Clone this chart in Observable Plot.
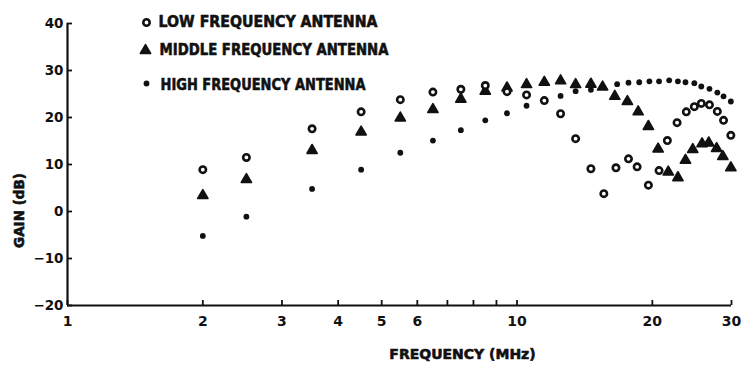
<!DOCTYPE html>
<html>
<head>
<meta charset="utf-8">
<script src="https://cdn.jsdelivr.net/npm/d3@7"></script>
<script src="https://cdn.jsdelivr.net/npm/@observablehq/plot@0.6"></script>
<style>
  body { margin: 0; background: #fff; }
  #chart svg { font-family: "DejaVu Sans", sans-serif; font-weight: bold; }
</style>
</head>
<body>
<div id="chart"></div>
<script>
// Antenna gain measurements (dB) against frequency (MHz)
const lowFreq  = [2, 2.5, 3.5, 4.5, 5.5, 6.5, 7.5, 8.5, 9.5, 10.5, 11.5, 12.5, 13.5, 14.6, 15.6, 16.6, 17.7, 18.5, 19.6, 20.7, 21.6, 22.7, 23.8, 24.8, 25.7, 26.8, 27.9, 28.8, 29.9];
const lowGain  = [8.9, 11.5, 17.6, 21.2, 23.8, 25.4, 26.0, 26.8, 25.5, 24.8, 23.6, 20.8, 15.5, 9.1, 3.8, 9.3, 11.2, 9.5, 5.6, 8.7, 15.1, 18.9, 21.2, 22.3, 23.0, 22.7, 21.3, 19.4, 16.2];

const midFreq  = [2, 2.5, 3.5, 4.5, 5.5, 6.5, 7.5, 8.5, 9.5, 10.5, 11.5, 12.5, 13.5, 14.6, 15.5, 16.5, 17.6, 18.6, 19.6, 20.6, 21.7, 22.8, 23.7, 24.6, 25.8, 26.7, 27.8, 28.7, 29.9];
const midGain  = [3.4, 6.8, 13.0, 16.9, 19.9, 21.7, 23.9, 25.6, 26.3, 27.0, 27.5, 27.8, 27.0, 27.1, 26.5, 24.5, 23.4, 21.2, 18.1, 13.3, 8.4, 7.2, 10.9, 13.2, 14.4, 14.6, 13.4, 11.7, 9.3];

const highFreq = [2, 2.5, 3.5, 4.5, 5.5, 6.5, 7.5, 8.5, 9.5, 10.5, 11.5, 12.5, 13.5, 14.6, 15.5, 16.7, 17.7, 18.7, 19.7, 20.7, 21.8, 22.8, 23.7, 24.8, 25.7, 26.8, 27.9, 28.8, 29.9];
const highGain = [-5.2, -1.1, 4.8, 8.9, 12.5, 15.1, 17.3, 19.4, 20.9, 22.5, 23.6, 24.6, 25.6, 25.9, 26.5, 27.1, 27.4, 27.5, 27.7, 27.7, 27.9, 27.7, 27.5, 27.3, 26.6, 26.1, 25.3, 24.5, 23.4];

const xTicks = [1, 2, 3, 4, 5, 6, 7, 8, 9, 10, 20, 30];
const yTicks = [-20, -10, 0, 10, 20, 30, 40];
const legendLabels = ["LOW FREQUENCY ANTENNA", "MIDDLE FREQUENCY ANTENNA", "HIGH FREQUENCY ANTENNA"];
const xTitle = "FREQUENCY (MHz)";
const yTitle = "GAIN (dB)";

const zip = (xs, ys) => xs.map((x, i) => ({f: x, g: ys[i]}));
const low = zip(lowFreq, lowGain);
const mid = zip(midFreq, midGain);
const high = zip(highFreq, highGain);

const W = 742, H = 367;
const M = {left: 67, right: 11, top: 23, bottom: 62};
const frameW = W - M.left - M.right;
const frameH = H - M.top - M.bottom;
const tickLen = 5;

const ink = "#111";
const circleStyle = {symbol: "circle", r: 3.2, fill: "white", stroke: ink, strokeWidth: 2.6};
const triStyle = {symbol: "triangle", r: 3.8, fill: ink, stroke: ink, strokeWidth: 1.6, strokeLinejoin: "round"};
const dotStyle = {symbol: "circle", r: 2.9, fill: ink, stroke: "none"};
const textStyle = {fontWeight: "bold", fill: ink, stroke: ink, strokeWidth: 0.6};

const chart = Plot.plot({
  width: W,
  height: H,
  marginLeft: M.left,
  marginRight: M.right,
  marginTop: M.top,
  marginBottom: M.bottom,
  x: {type: "log", domain: [1, 30]},
  y: {domain: [-20, 40]},
  marks: [
    Plot.ruleX([1], {stroke: ink, strokeWidth: 2.2}),
    Plot.ruleY([-20], {stroke: ink, strokeWidth: 2.2}),
    // inward tick marks: short stubs off each axis line
    Plot.tickY(yTicks, {y: d => d, insetRight: frameW - tickLen, stroke: ink, strokeWidth: 1.8}),
    Plot.tickX(xTicks, {x: d => d, insetTop: frameH - tickLen, stroke: ink, strokeWidth: 1.8}),
    Plot.axisY(yTicks, {tickSize: 0, tickPadding: 4, fontSize: 13.5, ...textStyle, label: null}),
    Plot.axisX(xTicks, {tickSize: 0, tickPadding: 11, fontSize: 14, ...textStyle, label: null,
      tickFormat: d => String(d)}),
    Plot.dot(high, {x: "f", y: "g", ...dotStyle}),
    Plot.dot(mid, {x: "f", y: "g", ...triStyle}),
    Plot.dot(low, {x: "f", y: "g", ...circleStyle}),
    // legend
    Plot.dot([0], {frameAnchor: "top-left", dx: 79, dy: -1, ...circleStyle}),
    Plot.dot([0], {frameAnchor: "top-left", dx: 78, dy: 27, ...triStyle}),
    Plot.dot([0], {frameAnchor: "top-left", dx: 79, dy: 60, ...dotStyle}),
    Plot.text([legendLabels[0]], {frameAnchor: "top-left", dx: 91, dy: -1.5, textAnchor: "start", lineAnchor: "middle", fontSize: 15.5, ...textStyle}),
    Plot.text([legendLabels[1]], {frameAnchor: "top-left", dx: 92, dy: 27, textAnchor: "start", lineAnchor: "middle", fontSize: 15.5, ...textStyle}),
    Plot.text([legendLabels[2]], {frameAnchor: "top-left", dx: 93, dy: 61.5, textAnchor: "start", lineAnchor: "middle", fontSize: 15.5, ...textStyle}),
    // axis titles
    Plot.text([xTitle], {frameAnchor: "bottom", dx: 63, dy: 49, lineAnchor: "middle", fontSize: 14, ...textStyle}),
    Plot.text([yTitle], {frameAnchor: "left", dx: -48, dy: 46, rotate: -90, textAnchor: "middle", lineAnchor: "middle", fontSize: 13.5, ...textStyle})
  ]
});

// fit each legend line to its printed width
const legendWidths = {[legendLabels[0]]: 219, [legendLabels[1]]: 229, [legendLabels[2]]: 205};
d3.select(chart).selectAll("text")
  .filter(function () { return this.textContent in legendWidths; })
  .attr("textLength", function () { return legendWidths[this.textContent]; })
  .attr("lengthAdjust", "spacingAndGlyphs");

document.getElementById("chart").append(chart);
</script>
</body>
</html>
